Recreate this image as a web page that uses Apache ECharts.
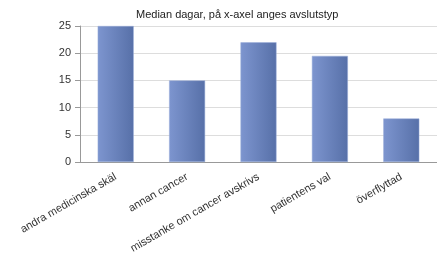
<!DOCTYPE html>
<html><head><meta charset="utf-8">
<script src="https://cdn.jsdelivr.net/npm/echarts@6/dist/echarts.min.js"></script>
<style>html,body{margin:0;padding:0;background:#fff}#c{width:437px;height:261px}</style>
</head><body><div id="c"></div>
<script>
const categories = ['andra medicinska skäl','annan cancer','misstanke om cancer avskrivs','patientens val','överflyttad'];
const values = [25, 15, 22, 19.5, 8];
const yTicks = [0, 5, 10, 15, 20, 25];
const titleText = 'Median dagar, på x-axel anges avslutstyp';

const chart = echarts.init(document.getElementById('c'), null, {renderer:'canvas'});
chart.setOption({
  animation:false,
  title:{text:titleText,left:131,top:4,textStyle:{fontFamily:'Liberation Sans, Arial',fontSize:11,fontWeight:'normal',color:'#222'}},
  grid:{left:80,top:26,width:363,height:136,containLabel:false},
  xAxis:{type:'category',data:categories,
    axisLine:{lineStyle:{color:'#999'}},
    axisTick:{alignWithLabel:true,length:5,lineStyle:{color:'#999'}},
    axisLabel:{rotate:30,interval:0,margin:14,fontFamily:'Liberation Sans, Arial',fontSize:11,color:'#333'}},
  yAxis:{type:'value',min:yTicks[0],max:yTicks[yTicks.length-1],interval:5,
    axisLine:{show:true,lineStyle:{color:'#999'}},
    axisTick:{show:true,length:5,lineStyle:{color:'#999'}},
    splitLine:{lineStyle:{color:'#ddd'}},
    axisLabel:{margin:9,fontFamily:'Liberation Sans, Arial',fontSize:11,color:'#333'}},
  series:[{type:'bar',data:values,barWidth:36,
    itemStyle:{color:new echarts.graphic.LinearGradient(0,0,1,0,[{offset:0,color:'#7d95cf'},{offset:1,color:'#5770a8'}]),
      borderColor:'#9aaedb',borderWidth:0.5}}]
});
</script></body></html>
